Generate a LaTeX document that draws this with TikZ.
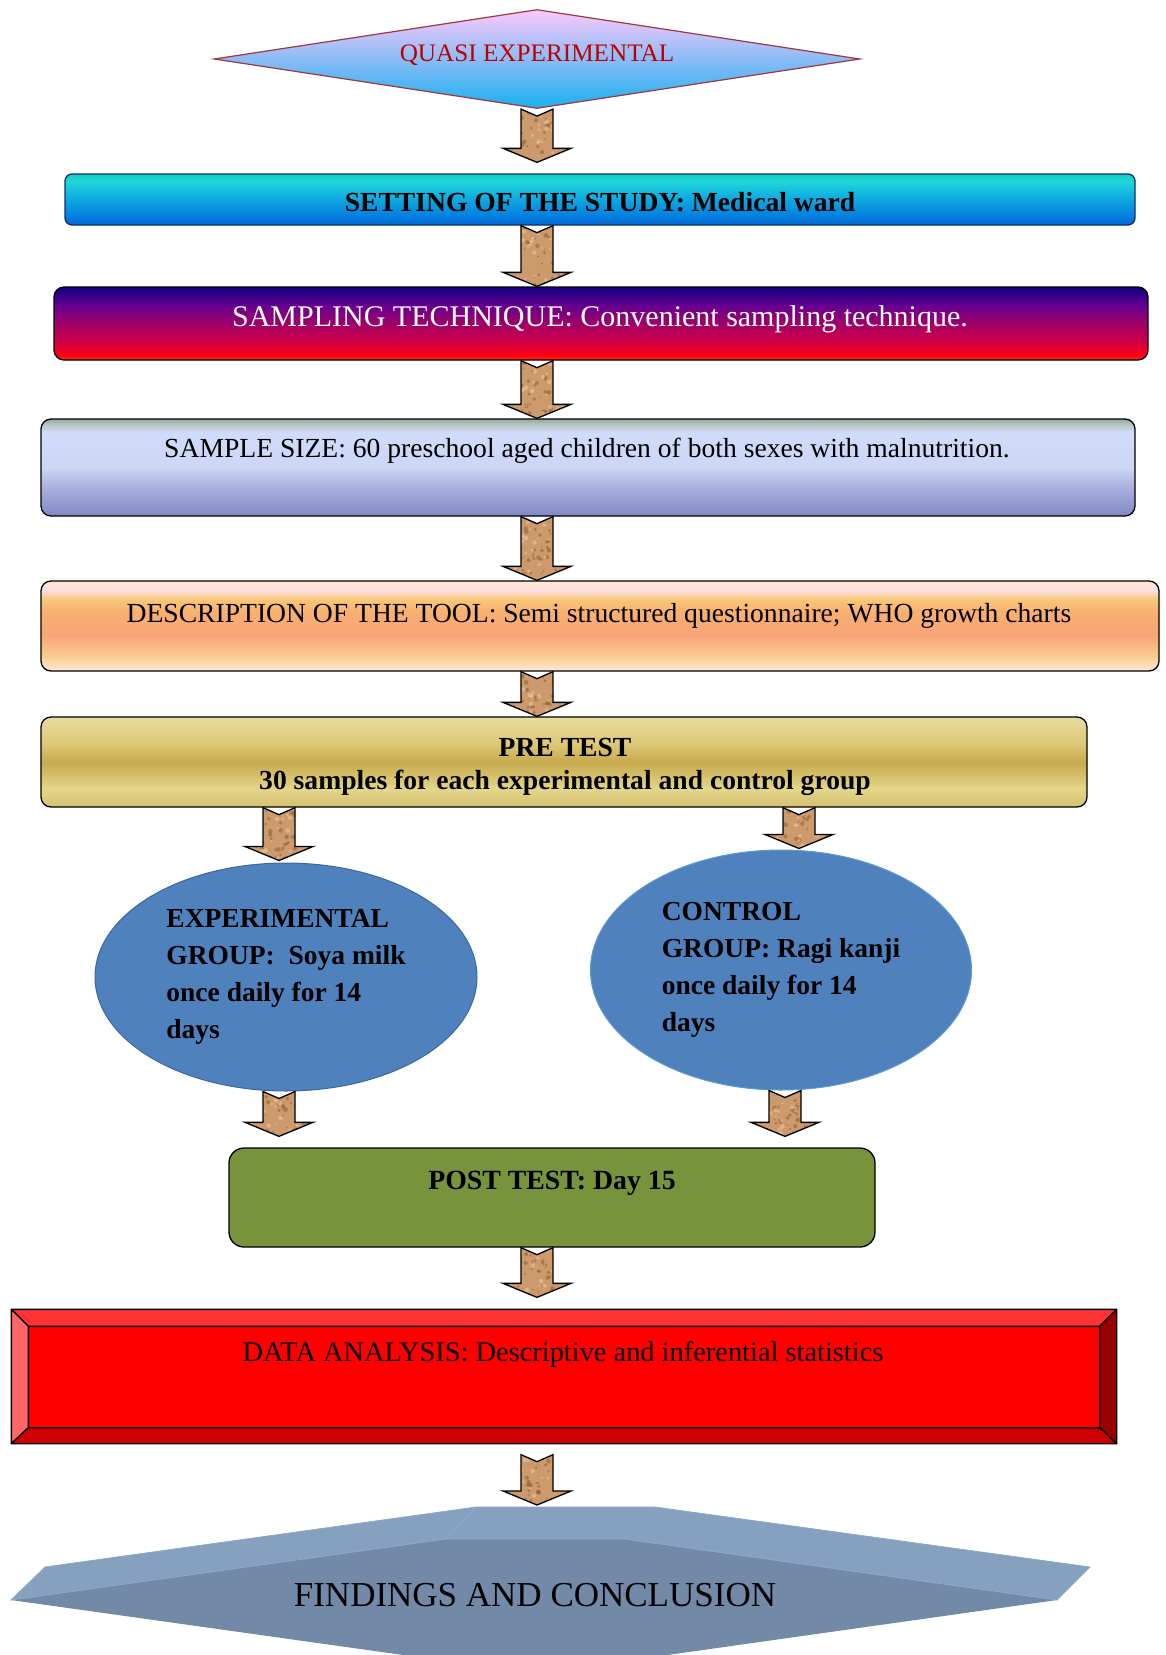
\documentclass[tikz,border=0pt]{standalone}
\usepackage{fontspec}
\setmainfont{Liberation Serif}
\usetikzlibrary{shapes.geometric,calc}
\definecolor{qtop}{HTML}{FCC8FC}
\definecolor{qbot}{HTML}{18B0F0}
\definecolor{qborder}{HTML}{A03838}
\definecolor{qred}{HTML}{C00000}
\definecolor{setborder}{HTML}{10306A}
\definecolor{sA}{HTML}{0068D8}\definecolor{sB}{HTML}{0482E0}\definecolor{sC}{HTML}{12B4E0}\definecolor{sD}{HTML}{20D8D8}\definecolor{sE}{HTML}{10CCBC}
\definecolor{pA}{HTML}{FF3800}\definecolor{pB}{HTML}{FF0010}\definecolor{pC}{HTML}{D80040}\definecolor{pD}{HTML}{A00068}\definecolor{pE}{HTML}{680090}\definecolor{pF}{HTML}{100080}
\definecolor{zA}{HTML}{8088C4}\definecolor{zB}{HTML}{AAB0E0}\definecolor{zC}{HTML}{CCD6F6}\definecolor{zD}{HTML}{D0DCFA}\definecolor{zE}{HTML}{B8C8C8}\definecolor{zF}{HTML}{98A898}
\definecolor{dA}{HTML}{FDE8D8}\definecolor{dB}{HTML}{FBD098}\definecolor{dC}{HTML}{F8A478}\definecolor{dD}{HTML}{F8B070}\definecolor{dE}{HTML}{F8C878}\definecolor{dF}{HTML}{FDE0E8}\definecolor{dG}{HTML}{FCE8D0}
\definecolor{gA}{HTML}{D6C070}\definecolor{gB}{HTML}{E4D68A}\definecolor{gC}{HTML}{C8AA4E}\definecolor{gD}{HTML}{DCC874}\definecolor{gE}{HTML}{E8DCA0}
\definecolor{expblue}{HTML}{4F81BD}
\definecolor{expborder}{HTML}{3A68A2}
\definecolor{ctlborder}{HTML}{5B9BD5}
\definecolor{postgreen}{HTML}{77933C}
\definecolor{bevT}{HTML}{FF3333}
\definecolor{bevL}{HTML}{FF6666}
\definecolor{bevR}{HTML}{990000}
\definecolor{bevB}{HTML}{CC0000}
\definecolor{fnTop}{HTML}{86A0C0}
\definecolor{fnFront}{HTML}{7289A8}
\definecolor{fnEdge}{HTML}{8EA8C8}
\definecolor{corkbase}{HTML}{CC9A6C}
\definecolor{corkdark}{HTML}{8A5A30}
\definecolor{corklight}{HTML}{ECC89A}
\pgfdeclareverticalshading{setshade}{100bp}{color(0bp)=(sA); color(25bp)=(sA); color(35bp)=(sB); color(55bp)=(sC); color(68bp)=(sD); color(75bp)=(sE); color(100bp)=(sE)}
\pgfdeclareverticalshading{sampshade}{100bp}{color(0bp)=(pA); color(25bp)=(pA); color(28bp)=(pB); color(36bp)=(pC); color(50bp)=(pD); color(62bp)=(pE); color(75bp)=(pF); color(100bp)=(pF)}
\pgfdeclareverticalshading{sizeshade}{100bp}{color(0bp)=(zA); color(25bp)=(zA); color(40bp)=(zB); color(50bp)=(zC); color(68bp)=(zD); color(72bp)=(zE); color(75bp)=(zF); color(100bp)=(zF)}
\pgfdeclareverticalshading{descshade}{100bp}{color(0bp)=(dA); color(25bp)=(dA); color(32bp)=(dB); color(45bp)=(dC); color(58bp)=(dD); color(65bp)=(dE); color(70bp)=(dF); color(75bp)=(dG); color(100bp)=(dG)}
\pgfdeclareverticalshading{preshade}{100bp}{color(0bp)=(gA); color(25bp)=(gA); color(35bp)=(gB); color(50bp)=(gC); color(60bp)=(gD); color(75bp)=(gE); color(100bp)=(gE)}
\pgfmathsetseed{4711}
\tikzset{
  box/.style={draw=black, line width=1.3pt, rounded corners=10pt, inner sep=0pt},
  rtxt/.style={inner sep=0pt, font=\fontsize{27.6}{33}\selectfont},
  btxt/.style={inner sep=0pt, align=center, font=\fontsize{27.6}{32.7}\selectfont\bfseries},
  etxt/.style={inner sep=0pt, align=left, font=\fontsize{27.5}{36.9}\selectfont\bfseries},
  cork/.style={draw=black, line width=1.3pt, fill=corkbase, path picture={
    \begin{scope}[shift={(path picture bounding box.center)}]
      \foreach \i in {1,...,70}{\fill[corkdark,opacity=0.5] ({rand*36},{rand*34}) circle ({0.8+rnd*1.6});}
      \foreach \i in {1,...,45}{\fill[corklight,opacity=0.6] ({rand*36},{rand*34}) circle ({0.8+rnd*1.6});}
    \end{scope}}}
}
\newcommand\barrow[2]{\path[cork] let \p1=#1, \p2=#2 in
  ({\x1-16pt},\y1) -- (\x1,{\y1-7pt}) -- ({\x1+16pt},\y1) -- ({\x1+16pt},{\y2+14pt})
  -- ({\x1+34pt},{\y2+14pt}) -- (\x1,\y2) -- ({\x1-34pt},{\y2+14pt}) -- ({\x1-16pt},{\y2+14pt}) -- cycle;}
\begin{document}
\begin{tikzpicture}[x=1pt,y=-1pt]
\useasboundingbox (0,0) rectangle (1166,1655);
\clip (0,0) rectangle (1166,1655);
% top diamond
\node[diamond, draw=qborder, line width=1.2pt, shade, top color=qtop, bottom color=qbot,
  minimum width=646pt, minimum height=99pt, inner sep=0pt] (q) at (537,59) {};
\node[inner sep=0pt, text=qred, font=\fontsize{25.2}{30}\selectfont] (qt) at (537,55) {QUASI EXPERIMENTAL};
% setting
\node[box, rounded corners=7pt, draw=setborder, shade, shading=setshade, minimum width=1070pt,
  minimum height=51pt] (set) at (600,199.5) {};
\node[btxt] (sett) at (600,202) {SETTING OF THE STUDY: Medical ward};
% sampling
\node[box, shade, shading=sampshade, minimum width=1094pt, minimum height=73pt] (samp) at (601,323.5) {};
\node[rtxt, text=white, font=\fontsize{30}{34}\selectfont] (sampt) at (600,319.5) {SAMPLING TECHNIQUE: Convenient sampling technique.};
% sample size
\node[box, shade, shading=sizeshade, minimum width=1094pt, minimum height=97pt] (size) at (588,467.5) {};
\node[rtxt] (sizet) at (587,451) {SAMPLE SIZE: 60 preschool aged children of both sexes with malnutrition.};
% description
\node[box, shade, shading=descshade, minimum width=1118pt, minimum height=90pt] (desc) at (600,626) {};
\node[rtxt] (desct) at (599,616) {DESCRIPTION OF THE TOOL: Semi structured questionnaire; WHO growth charts};
% pre test
\node[box, shade, shading=preshade, minimum width=1046pt, minimum height=90pt] (pre) at (564,762) {};
\node[btxt] (pret) at (565,767) {PRE TEST\\30 samples for each experimental and control group};
% groups
\node[ellipse, draw=expborder, line width=1pt, fill=expblue, minimum width=382pt, minimum height=228pt, etxt] (exp) at (286,977)
  {EXPERIMENTAL\\GROUP:~ Soya milk\\once daily for 14\\days};
\node[ellipse, draw=ctlborder, line width=1pt, fill=expblue, minimum width=381pt, minimum height=240pt, etxt] (ctl) at (781,970)
  {CONTROL\\GROUP: Ragi kanji\\once daily for 14\\days};
% post test
\node[box, rounded corners=15pt, fill=postgreen, minimum width=646pt, minimum height=99pt] (post) at (552,1197.5) {};
\node[btxt, font=\fontsize{27.8}{32}\selectfont\bfseries] (postt) at (552,1183) {POST TEST: Day 15};
% data analysis (bevel)
\node[draw=black, line width=1.3pt, fill=red, minimum width=1104pt, minimum height=133pt, inner sep=0pt] (data) at (564,1376.5) {};
\begin{scope}[draw=black, line width=1.3pt, line join=round]
\filldraw[fill=bevT] (data.north west) -- (data.north east) -- ($(data.north east)+(-17,17)$) -- ($(data.north west)+(17,17)$) -- cycle;
\filldraw[fill=bevL] (data.north west) -- ($(data.north west)+(17,17)$) -- ($(data.south west)+(17,-16)$) -- (data.south west) -- cycle;
\filldraw[fill=bevR] (data.north east) -- (data.south east) -- ($(data.south east)+(-17,-16)$) -- ($(data.north east)+(-17,17)$) -- cycle;
\filldraw[fill=bevB] (data.south west) -- ($(data.south west)+(17,-16)$) -- ($(data.south east)+(-17,-16)$) -- (data.south east) -- cycle;
\end{scope}
\node[rtxt, font=\fontsize{28.4}{33}\selectfont] (datat) at (563,1355) {DATA ANALYSIS: Descriptive and inferential statistics};
% findings (bevelled hexagon)
\fill[fnFront] (11,1600) -- (446,1539) -- (625,1539) -- (1057,1600) -- (625,1661) -- (446,1661) -- cycle;
\filldraw[fill=fnTop, draw=fnEdge, line width=0.8pt] (11,1600) -- (45,1567) -- (476,1507) -- (655,1507) -- (1090,1567) -- (1057,1600) -- (625,1539) -- (446,1539) -- cycle;
\draw[fnEdge, line width=0.8pt] (446,1539) -- (476,1507) (625,1539) -- (655,1507);
\coordinate (ftop) at (537,1505);
\node[inner sep=0pt, font=\fontsize{35}{40}\selectfont] (fc) at (535,1595) {FINDINGS AND CONCLUSION};
% block arrows
\barrow{(q.south)}{($(set.north -| q.south)+(0,-11)$)}
\barrow{(set.south -| q.south)}{(samp.north -| q.south)}
\barrow{(samp.south -| q.south)}{(size.north -| q.south)}
\barrow{(size.south -| q.south)}{(desc.north -| q.south)}
\barrow{(desc.south -| q.south)}{(pre.north -| q.south)}
\barrow{($(pre.south -| exp.north)+(-7,0)$)}{($(exp.north)+(-7,-2)$)}
\barrow{($(pre.south -| ctl.north)+(18,0)$)}{($(ctl.north)+(18,-1)$)}
\barrow{($(exp.south)+(-7,0)$)}{($(post.north -| exp.south)+(-7,-11)$)}
\barrow{($(ctl.south)+(4,0)$)}{($(post.north -| ctl.south)+(4,-11)$)}
\barrow{(post.south -| q.south)}{($(data.north -| q.south)+(0,-12)$)}
\barrow{($(data.south -| q.south)+(0,11)$)}{(ftop)}
\end{tikzpicture}
\end{document}
